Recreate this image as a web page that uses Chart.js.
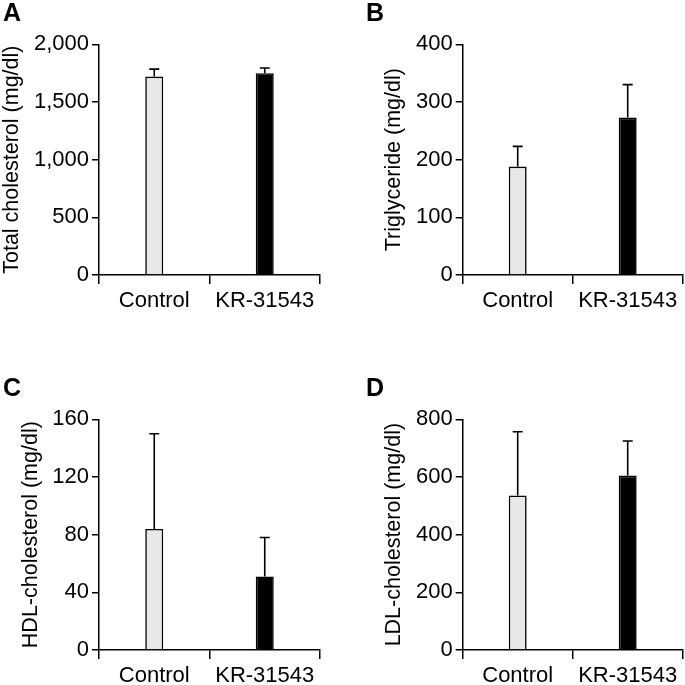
<!DOCTYPE html>
<html>
<head>
<meta charset="utf-8">
<script src="https://cdn.jsdelivr.net/npm/chart.js@4.4.1/dist/chart.umd.min.js"></script>
<style>
  body { margin: 0; background: #fff; }
  #wrap { position: relative; width: 685px; height: 685px; }
  canvas { position: absolute; }
</style>
</head>
<body>
<div id="wrap">
  <canvas id="chartA" width="342" height="310" style="left:0px;top:0px"></canvas>
  <canvas id="chartB" width="343" height="310" style="left:342px;top:0px"></canvas>
  <canvas id="chartC" width="342" height="310" style="left:0px;top:375px"></canvas>
  <canvas id="chartD" width="343" height="310" style="left:342px;top:375px"></canvas>
</div>
<script>
const groups = ["Control", "KR-31543"];

const totalMean = [1720, 1750];
const totalErr = [65, 45];
const totalTicks = [0, 500, 1000, 1500, 2000];

const trigMean = [188, 273];
const trigErr = [35, 57];
const trigTicks = [0, 100, 200, 300, 400];

const hdlMean = [84, 51];
const hdlErr = [66, 27];
const hdlTicks = [0, 40, 80, 120, 160];

const ldlMean = [536, 605];
const ldlErr = [221, 120];
const ldlTicks = [0, 200, 400, 600, 800];

Chart.defaults.font.family = '"Liberation Sans", Arial, sans-serif';
Chart.defaults.color = "#000";

// upward SD bars with a small cap
const errorBars = {
  id: "errorBars",
  afterDatasetsDraw(chart, args, opts) {
    const ctx = chart.ctx;
    const meta = chart.getDatasetMeta(0);
    const yScale = chart.scales.y;
    const means = chart.data.datasets[0].data;
    ctx.save();
    ctx.strokeStyle = "#000";
    ctx.lineWidth = 1.6;
    meta.data.forEach((bar, i) => {
      const top = yScale.getPixelForValue(means[i] + opts.errors[i]);
      ctx.beginPath();
      ctx.moveTo(bar.x, bar.y);
      ctx.lineTo(bar.x, top);
      ctx.moveTo(bar.x - 5, top);
      ctx.lineTo(bar.x + 5, top);
      ctx.stroke();
    });
    ctx.restore();
  }
};

function makeChart(id, letter, yTitle, means, errs, ticks, padLeft, padRight, axisWidth, titlePad) {
  new Chart(document.getElementById(id), {
    type: "bar",
    data: {
      labels: groups,
      datasets: [{
        data: means,
        backgroundColor: ["#e8e8e8", "#000"],
        borderColor: "#000",
        borderWidth: 1.6,
        categoryPercentage: 1,
        barPercentage: 0.163
      }]
    },
    plugins: [errorBars],
    options: {
      responsive: false,
      animation: false,
      devicePixelRatio: 1,
      layout: { padding: { left: padLeft, right: padRight, top: 0, bottom: 0 } },
      plugins: {
        legend: { display: false },
        tooltip: { enabled: false },
        title: {
          display: true,
          text: letter,
          align: "start",
          color: "#000",
          font: { size: 25, weight: "bold", lineHeight: 1 },
          padding: { top: 1.5, bottom: 17.8 }
        },
        errorBars: { errors: errs }
      },
      scales: {
        x: {
          grid: { drawOnChartArea: false, tickLength: 9, color: "#000", lineWidth: 1.5 },
          border: { color: "#000", width: 1.5 },
          ticks: { padding: 4, font: { size: 22 }, color: "#000" },
          afterFit: s => { s.height = 35; }
        },
        y: {
          min: 0,
          max: ticks[ticks.length - 1],
          grid: { drawOnChartArea: false, tickLength: 7, color: "#000", lineWidth: 1.5 },
          border: { color: "#000", width: 1.5 },
          ticks: {
            padding: 3,
            font: { size: 22 },
            color: "#000",
            callback: v => v.toLocaleString("en-US")
          },
          afterBuildTicks: s => { s.ticks = ticks.map(v => ({ value: v })); },
          title: {
            display: true,
            text: yTitle,
            color: "#000",
            font: { size: 21.5, lineHeight: 1 },
            padding: { top: titlePad, bottom: 0 }
          },
          afterFit: s => { s.width = axisWidth; }
        }
      }
    }
  });
}

makeChart("chartA", "A", "Total cholesterol (mg/dl)", totalMean, totalErr, totalTicks, 3, 22, 96, -1.5);
makeChart("chartB", "B", "Triglyceride (mg/dl)", trigMean, trigErr, trigTicks, 24, 2.3, 96.7, 17);
makeChart("chartC", "C", "HDL-cholesterol (mg/dl)", hdlMean, hdlErr, hdlTicks, 3, 22, 96, 17.5);
makeChart("chartD", "D", "LDL-cholesterol (mg/dl)", ldlMean, ldlErr, ldlTicks, 24, 2.3, 96.7, 17.5);
</script>
</body>
</html>
